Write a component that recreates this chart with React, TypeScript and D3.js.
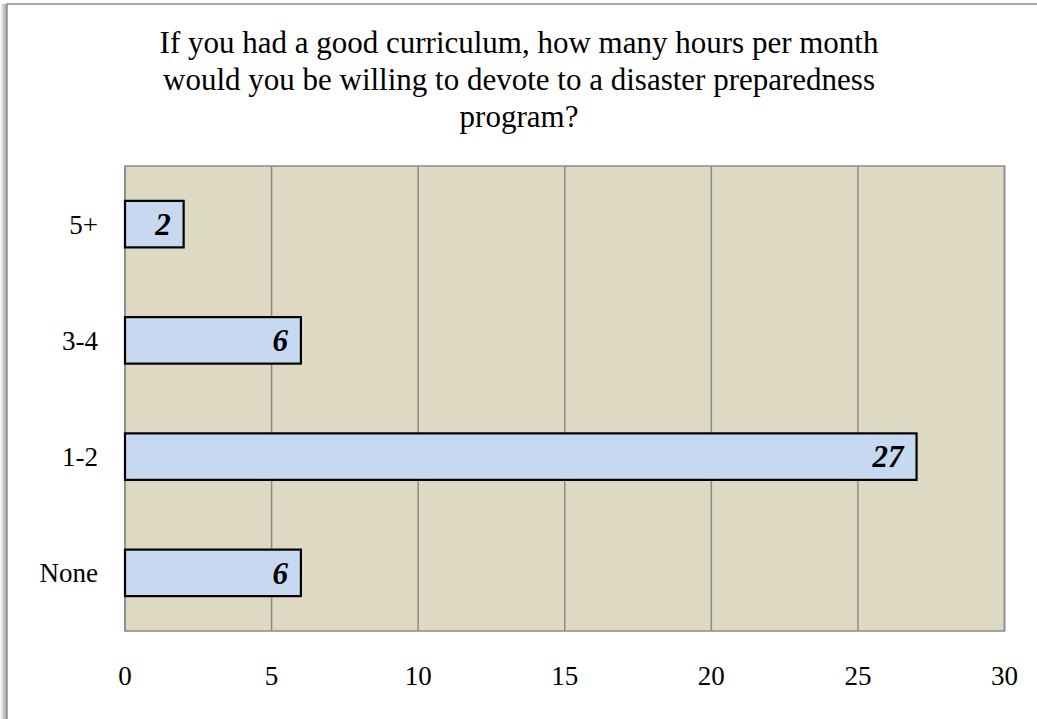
import React from "react";
import * as d3 from "d3";

const categories = ["5+", "3-4", "1-2", "None"];
const values = [2, 6, 27, 6];
const xTicks = [0, 5, 10, 15, 20, 25, 30];
const titleLines = [
  "If you had a good curriculum, how many hours per month",
  "would you be willing to devote to a disaster preparedness",
  "program?",
];

export default function App() {
  const W = 1037;
  const H = 719;
  const plot = { left: 125, right: 1004.5, top: 166, bottom: 631 };
  const x = d3.scaleLinear().domain([0, 30]).range([plot.left, plot.right]);
  const y = d3
    .scaleBand<string>()
    .domain(categories)
    .range([plot.top, plot.bottom])
    .paddingInner(0.6)
    .paddingOuter(0.3);
  const font = "'Liberation Serif', 'Times New Roman', serif";

  return (
    <svg
      width={W}
      height={H}
      style={{ position: "absolute", left: 0, top: 0, background: "#fff" }}
    >
      <defs>
        <linearGradient id="shadowL" x1="0" x2="1" y1="0" y2="0">
          <stop offset="0" stopColor="#ffffff" />
          <stop offset="1" stopColor="#9a9a9a" />
        </linearGradient>
      </defs>
      <rect x={0} y={4} width={7} height={H} fill="url(#shadowL)" />
      <rect x={7} y={4} width={W + 10} height={H + 10} fill="#fff" stroke="#8c8c8c" strokeWidth={1.5} />

      {titleLines.map((t, i) => (
        <text
          key={i}
          x={519}
          y={53 + i * 37}
          textAnchor="middle"
          fontFamily={font}
          fontSize={31}
          fill="#000"
        >
          {t}
        </text>
      ))}

      <rect
        x={plot.left}
        y={plot.top}
        width={plot.right - plot.left}
        height={plot.bottom - plot.top}
        fill="#ddd9c3"
      />
      {xTicks.map((t) => (
        <line
          key={t}
          x1={x(t)}
          x2={x(t)}
          y1={plot.top}
          y2={plot.bottom}
          stroke="#8a8a8a"
          strokeWidth={1.5}
        />
      ))}
      <rect
        x={plot.left}
        y={plot.top}
        width={plot.right - plot.left}
        height={plot.bottom - plot.top}
        fill="none"
        stroke="#8a8a8a"
        strokeWidth={1.5}
      />

      {categories.map((c, i) => (
        <g key={c}>
          <rect
            x={x(0)}
            y={y(c)!}
            width={x(values[i]) - x(0)}
            height={y.bandwidth()}
            fill="#c6d9f1"
            stroke="#000"
            strokeWidth={2.2}
          />
          <text
            x={x(values[i]) - 13}
            y={y(c)! + y.bandwidth() / 2}
            dy="0.35em"
            textAnchor="end"
            fontFamily={font}
            fontSize={31}
            fontWeight="bold"
            fontStyle="italic"
          >
            {values[i]}
          </text>
          <text
            x={98}
            y={y(c)! + y.bandwidth() / 2}
            dy="0.35em"
            textAnchor="end"
            fontFamily={font}
            fontSize={27}
          >
            {c}
          </text>
        </g>
      ))}

      {xTicks.map((t) => (
        <text
          key={t}
          x={x(t)}
          y={685}
          textAnchor="middle"
          fontFamily={font}
          fontSize={27}
        >
          {t}
        </text>
      ))}
    </svg>
  );
}
